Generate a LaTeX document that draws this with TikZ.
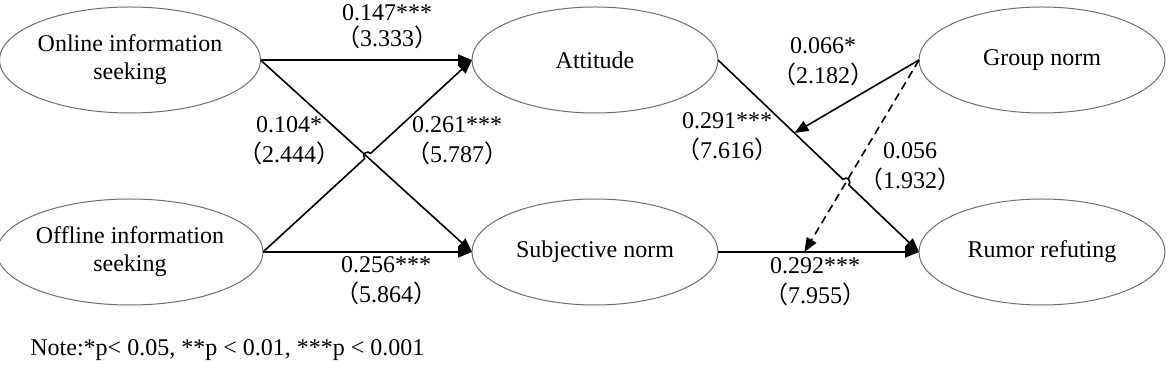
\documentclass[tikz,border=0pt]{standalone}
\usepackage{fontspec}
\setmainfont{Liberation Serif}
\newfontfamily\cjk{Noto Sans CJK SC}
\usetikzlibrary{arrows.meta,shapes.geometric,calc}
\definecolor{rim}{RGB}{110,110,110}
\definecolor{ink}{RGB}{0,0,0}
\newcommand\tval[1]{{\cjk （}#1{\cjk ）}}
\tikzset{
  >={Triangle[length=7pt,width=5.5pt]},
  construct/.style={ellipse,draw=rim,line width=0.5pt,minimum width=123pt,minimum height=53pt,
    inner sep=0pt,outer sep=0pt,align=center,font=\fontsize{12}{14}\selectfont},
  coef/.style={align=center,font=\fontsize{12}{15}\selectfont,inner sep=0pt},
  link/.style={->,draw=ink,line width=0.8pt},
  link/.default=ink,
}
\begin{document}
\begin{tikzpicture}[x=0.5pt,y=0.5pt]
  \useasboundingbox (0,0) rectangle (1170,374);
  % constructs
  \node[construct] (on) at (130,314) {Online information\\seeking};
  \node[construct] (off) at (130,122) {Offline information\\seeking};
  \node[construct] (att) at (595,314) {Attitude};
  \node[construct] (sub) at (595,122) {Subjective norm};
  \node[construct] (gn) at (1042,314) {Group norm};
  \node[construct] (rum) at (1042,122) {Rumor refuting};
  % paths
  \coordinate (x1) at ($(off.east)!0.5!(att.west)$);
  \draw[link] (on.east) -- (att.west);
  \draw[link] (on.east) -- (sub.west);
  \draw[link] (off.east) -- ($(x1)!2pt!(off.east)$) arc[start angle=221.2,delta angle=-180,radius=2pt] -- (att.west);
  \draw[link] (off.east) -- (sub.west);
  \coordinate (x2) at ($(att.east)!0.636!(rum.west)$);
  \draw[link] (att.east) -- ($(x2)!2pt!(att.east)$) arc[start angle=136.3,delta angle=-180,radius=2pt] -- (rum.west);
  \draw[link] (sub.east) -- (rum.west);
  % moderation
  \coordinate (t1) at ($(att.east)!0.38!(rum.west)$);
  \coordinate (t2) at ($(sub.east)!0.43!(rum.west)$);
  \draw[link] (gn.west) -- (t1);
  \draw[link,dash pattern=on 4pt off 2.5pt] (gn.west) -- (t2);
  % coefficients
  \node[coef,anchor=north] (c1) at (387,370) {0.147***\\[-2pt]\tval{3.333}};
  \node[coef] (c2) at (289,233) {0.104*\\\tval{2.444}};
  \node[coef] (c3) at (457,233) {0.261***\\\tval{5.787}};
  \node[coef] (c4) at (386,93) {0.256***\\\tval{5.864}};
  \node[coef] (c5) at (823,312) {0.066*\\\tval{2.182}};
  \node[coef] (c6) at (727,237) {0.291***\\\tval{7.616}};
  \node[coef] (c7) at (910,207) {0.056\\\tval{1.932}};
  \node[coef] (c8) at (815,92) {0.292***\\\tval{7.955}};
  \node[coef,anchor=west] (note) at (30,24) {Note:*p< 0.05, **p < 0.01, ***p < 0.001};
\end{tikzpicture}
\end{document}
